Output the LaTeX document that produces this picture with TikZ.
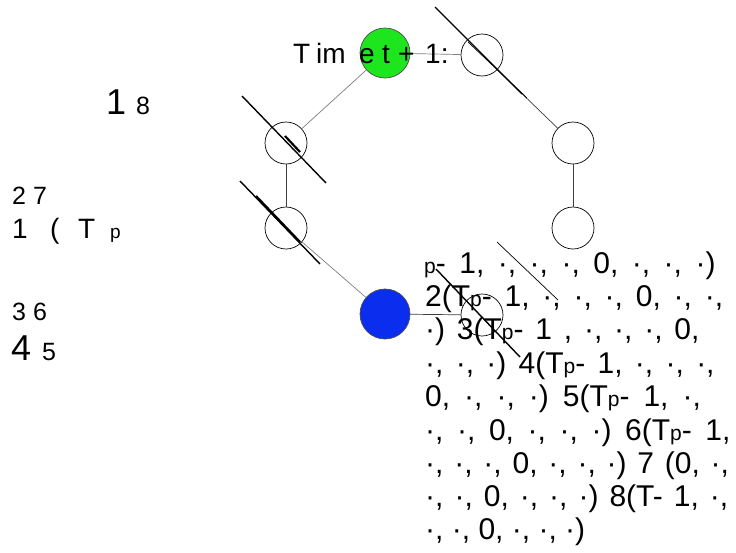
\documentclass[tikz,border=0pt]{standalone}
\usepackage{fontspec}
\setmainfont{Liberation Sans}
\definecolor{vgreen}{RGB}{30,230,30}
\definecolor{vblue}{RGB}{10,45,238}
\newcommand{\smp}{{\fontsize{21}{21}\selectfont p}}
\newcommand{\wsp}[1]{\spaceskip=#1pt\relax}
\begin{document}
\begin{tikzpicture}[x=1pt,y=-1pt,
  vtx/.style={circle,draw=black,line width=0.7pt,minimum size=42pt,inner sep=0pt},
  bigvtx/.style={vtx,minimum size=50pt,draw=black!70},
  edgelight/.style={draw=black!50,line width=0.7pt},
  edgedark/.style={draw=black!75,line width=0.7pt},
  slash/.style={draw=black,line width=1.4pt},
  thinslash/.style={draw=black,line width=0.7pt},
  txt/.style={anchor=base west,inner sep=0pt,font=\fontsize{25}{30}\selectfont},
  midtxt/.style={anchor=base west,inner sep=0pt,font=\fontsize{28}{30}\selectfont},
  bigtxt/.style={anchor=base west,inner sep=0pt,font=\fontsize{36}{40}\selectfont},
  body/.style={anchor=base west,inner sep=0pt,font=\fontsize{30}{33}\selectfont}]
\useasboundingbox (0,0) rectangle (736,552);
\fill[white] (0,0) rectangle (736,552);
% vertices
\node[bigvtx,fill=vgreen] (g) at (385,53) {};
\node[vtx] (tr) at (482,55) {};
\node[vtx] (lu) at (286,143) {};
\node[vtx] (ll) at (286,228) {};
\node[vtx] (ru) at (573,143) {};
\node[vtx] (rl) at (573,228) {};
\node[bigvtx,fill=vblue] (b) at (385,314) {};
\node[vtx] (sm) at (482,315) {};
% edges
\draw[edgelight] (g) -- (tr);
\draw[edgelight] (g) -- (lu);
\draw[edgedark] (lu) -- (ll);
\draw[edgelight] (ll) -- (b);
\draw[edgedark] (b) -- (sm);
\draw[edgedark] (tr) -- (ru);
\draw[edgedark] (ru) -- (rl);
% slashes
\coordinate (s1a) at (435,7); \coordinate (s1b) at (522,94);
\coordinate (s1c) at (468,42); \coordinate (s1d) at (527,98);
\draw[slash] (s1a) -- (s1b);
\draw[thinslash] (s1c) -- (s1d);
\coordinate (s2a) at (242,96); \coordinate (s2b) at (326,183);
\coordinate (s2c) at (285,136); \coordinate (s2d) at (300,152);
\draw[slash] (s2a) -- (s2b);
\draw[line width=2.2pt] (s2c) -- (s2d);
\coordinate (s3a) at (240,181); \coordinate (s3b) at (320,264);
\coordinate (s3c) at (256,196); \coordinate (s3d) at (300,242);
\draw[slash] (s3a) -- (s3b);
\draw[line width=2.2pt] (s3c) -- (s3d);
\coordinate (s4a) at (436,269); \coordinate (s4b) at (520,357);
\draw[slash] (s4a) -- (s4b);
\coordinate (s5a) at (497,242); \coordinate (s5b) at (558,300);
\draw[thinslash] (s5a) -- (s5b);
% title
\node[midtxt] (tT) at (293,63) {T};
\node[midtxt] (tim) at (316,63) {im};
\node[midtxt] (te) at (359,63) {e};
\node[midtxt] (tt) at (382,63) {t};
\node[midtxt] (tplus) at (398,63) {+};
\node[midtxt] (tone) at (425,63) {1:};
% left labels
\node[bigtxt] (l1) at (106,114) {1};
\node[txt] (l8) at (136,114) {8};
\node[txt] (l27) at (12,204) {2 7};
\node[midtxt] (lone) at (12,238) {1};
\node[midtxt] (lpar) at (50,238) {(};
\node[midtxt] (lT) at (78,238) {T};
\node[txt,font=\fontsize{19}{20}\selectfont] (lp) at (110,238) {p};
\node[txt] (l36) at (12,320) {3 6};
\node[bigtxt] (l4) at (11,360) {4};
\node[txt] (l5) at (42,360) {5};
% body text
\node[body] (r1) at (424,273) {\wsp{13.5}\smp- 1, ·, ·, ·, 0, ·, ·, ·)};
\node[body] (r2) at (425,306) {\wsp{12.8}2(T\smp- 1, ·, ·, ·, 0, ·, ·,};
\node[body] (r3) at (425,339) {\wsp{11.8}·) 3(T\smp- 1 , ·, ·, ·, 0,};
\node[body] (r4) at (425,373) {\wsp{12.3}·, ·, ·) 4(T\smp- 1, ·, ·, ·,};
\node[body] (r5) at (425,406) {\wsp{14}0, ·, ·, ·) 5(T\smp- 1, ·,};
\node[body] (r6) at (425,440) {\wsp{13.6}·, ·, 0, ·, ·, ·) 6(T\smp- 1,};
\node[body] (r7) at (425,473) {\wsp{10.8}·, ·, ·, 0, ·, ·, ·) 7 (0, ·,};
\node[body] (r8) at (425,506) {\wsp{11}·, ·, 0, ·, ·, ·) 8(T- 1, ·,};
\node[body] (r9) at (425,539) {·, ·, 0, ·, ·, ·)};
\end{tikzpicture}
\end{document}
